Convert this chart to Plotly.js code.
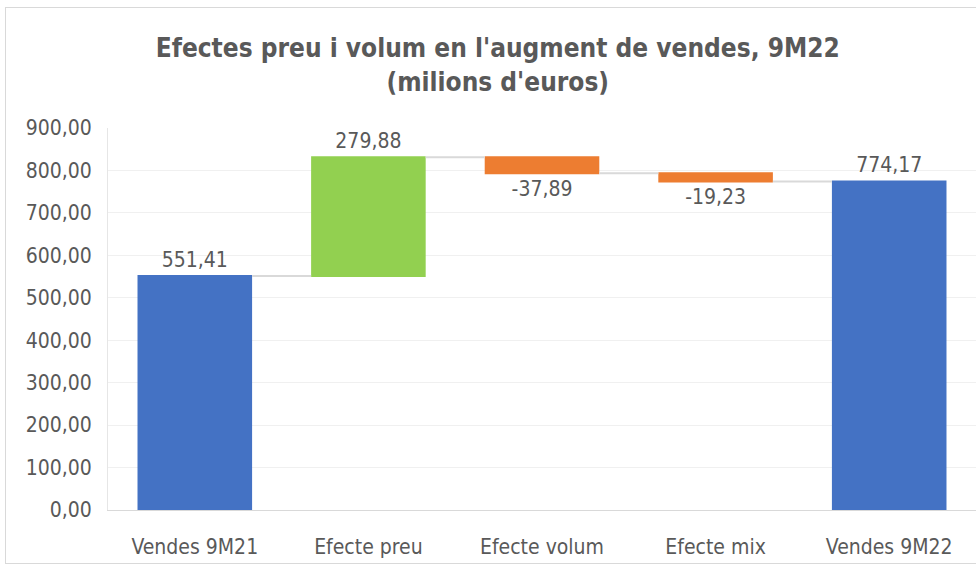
<!DOCTYPE html>
<html>
<head>
<meta charset="utf-8">
<script src="https://cdn.plot.ly/plotly-3.0.1.min.js"></script>
<style>
  body { margin: 0; padding: 0; background: #fff; }
  #wrap { position: relative; width: 976px; height: 570px; }
  #chart { position: absolute; left: 0; top: 0; width: 976px; height: 570px; }
  #frame { position: absolute; left: 5px; top: 7px; width: 975px; height: 557px;
           border: 1px solid #d9d9d9; pointer-events: none; box-sizing: border-box; }
</style>
</head>
<body>
<div id="wrap">
  <div id="chart"></div>
  <div id="frame"></div>
</div>
<script>
const categories = ['Vendes 9M21', 'Efecte preu', 'Efecte volum', 'Efecte mix', 'Vendes 9M22'];
const measures = ['absolute', 'relative', 'relative', 'relative', 'total'];
const values = [551.41, 279.88, -37.89, -19.23, 774.17];
const labels = values.map(v => v.toFixed(2).replace('.', ','));
const yTicks = [0, 100, 200, 300, 400, 500, 600, 700, 800, 900];

const FONT = "'Liberation Sans Narrow', 'DejaVu Sans Condensed', 'Open Sans', sans-serif";
const GREY = '#595959';

const trace = {
  type: 'waterfall',
  x: categories,
  y: values,
  measure: measures,
  text: labels,
  textinfo: 'text',
  textposition: 'outside',
  textfont: { family: FONT, size: 21, color: GREY },
  cliponaxis: false,
  connector: { line: { color: '#d9d9d9', width: 2 }, mode: 'between' },
  increasing: { marker: { color: '#92D050' } },
  decreasing: { marker: { color: '#ED7D31' } },
  totals: { marker: { color: '#4472C4' } },
  hoverinfo: 'skip'
};

const layout = {
  width: 976, height: 570,
  margin: { l: 108, r: 0, t: 128, b: 60 },
  paper_bgcolor: '#ffffff', plot_bgcolor: '#ffffff',
  separators: ', ',
  showlegend: false,
  waterfallgap: 0.34,
  title: {
    text: "<b>Efectes preu i volum en l'augment de vendes, 9M22<br>(milions d'euros)</b>",
    font: { family: FONT, size: 26, color: GREY },
    x: 0.51, xref: 'container', xanchor: 'center',
    y: 0.90, yref: 'container', yanchor: 'top'
  },
  xaxis: {
    type: 'category',
    tickfont: { family: FONT, size: 21, color: GREY },
    showline: true, linecolor: '#d9d9d9', linewidth: 1,
    ticks: 'outside', ticklen: 18, tickcolor: 'rgba(0,0,0,0)',
    showgrid: false, fixedrange: true
  },
  yaxis: {
    range: [0, 900],
    tickvals: yTicks,
    tickformat: '.2f',
    tickfont: { family: FONT, size: 21, color: GREY },
    showgrid: true, gridcolor: '#f0f0f0', gridwidth: 1,
    zeroline: false,
    showline: true, linecolor: '#e6e6e6', linewidth: 1,
    ticks: 'outside', ticklen: 11, tickcolor: 'rgba(0,0,0,0)',
    fixedrange: true
  }
};

Plotly.newPlot('chart', [trace], layout, { displayModeBar: false, staticPlot: true });
</script>
</body>
</html>
